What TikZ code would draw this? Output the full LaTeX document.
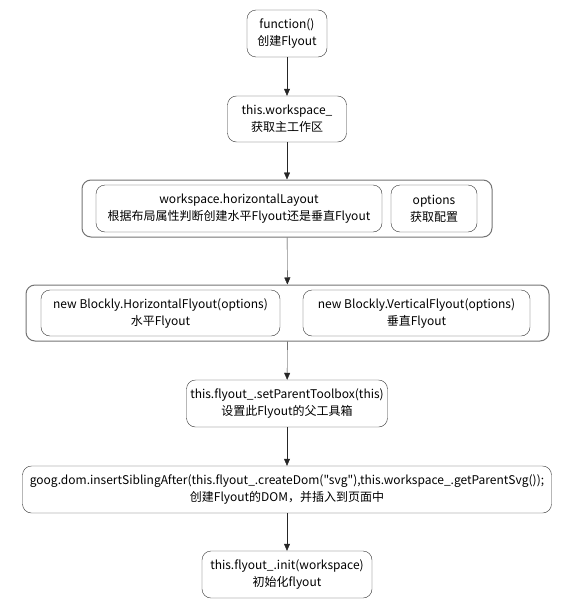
\documentclass[tikz,border=0pt]{standalone}
\usepackage{fontspec}
\setmainfont{Noto Sans CJK SC}[Ligatures=TeXOff]
\usetikzlibrary{arrows.meta}
\tikzset{
  box/.style={draw=black!80, rounded corners=9pt, align=center, inner sep=0pt,
    font=\fontsize{12}{17}\selectfont},
  group/.style={draw=black!55, rounded corners=9pt, line width=1pt},
  flow/.style={-{Triangle[length=7pt,width=6pt]}, draw=black!85}
}
\begin{document}
\begin{tikzpicture}[x=1pt, y=-1pt, line join=round]
  \useasboundingbox (0,0) rectangle (584,613);
  \def\cx{287} % Mittelachse
  % Schritte
  \node[box, minimum width=80,  minimum height=47] (fn) at (\cx,33.5) {function()\\创建Flyout};
  \node[box, minimum width=119, minimum height=46] (ws) at (\cx,119) {this.workspace\_\\获取主工作区};
  % Gruppe: Layout und Optionen
  \node[group, minimum width=410, minimum height=57] (layout) at (\cx,208.5) {};
  \node[box, minimum width=286, minimum height=47] (hl)  at (239,208.5) {workspace.horizontalLayout\\根据布局属性判断创建水平Flyout还是垂直Flyout};
  \node[box, minimum width=86,  minimum height=47] (opt) at (434,208.5) {options\\获取配置};
  % Gruppe: Flyout-Typen
  \node[group, minimum width=523, minimum height=56] (types) at (287.5,313) {};
  \node[box, minimum width=239, minimum height=46] (hf) at (160.5,313) {new Blockly.HorizontalFlyout(options)\\水平Flyout};
  \node[box, minimum width=227, minimum height=46] (vf) at (416.5,313) {new Blockly.VerticalFlyout(options)\\垂直Flyout};
  % weitere Schritte
  \node[box, minimum width=201, minimum height=47] (tb)   at (\cx,403.5) {this.flyout\_.setParentToolbox(this)\\设置此Flyout的父工具箱};
  \node[box, minimum width=529, minimum height=47] (dom)  at (\cx,489.5) {goog.dom.insertSiblingAfter(this.flyout\_.createDom("svg"),this.workspace\_.getParentSvg());\\创建Flyout的DOM，并插入到页面中};
  \node[box, minimum width=170, minimum height=47] (init) at (\cx,574.5) {this.flyout\_.init(workspace)\\初始化flyout};
  % Pfeile
  \draw[flow] (fn) -- (ws);
  \draw[flow] (ws) -- (layout);
  \draw[flow] (layout) -- (types);
  \draw[flow] (types) -- (tb);
  \draw[flow] (tb) -- (dom);
  \draw[flow] (dom) -- (init);
\end{tikzpicture}
\end{document}
